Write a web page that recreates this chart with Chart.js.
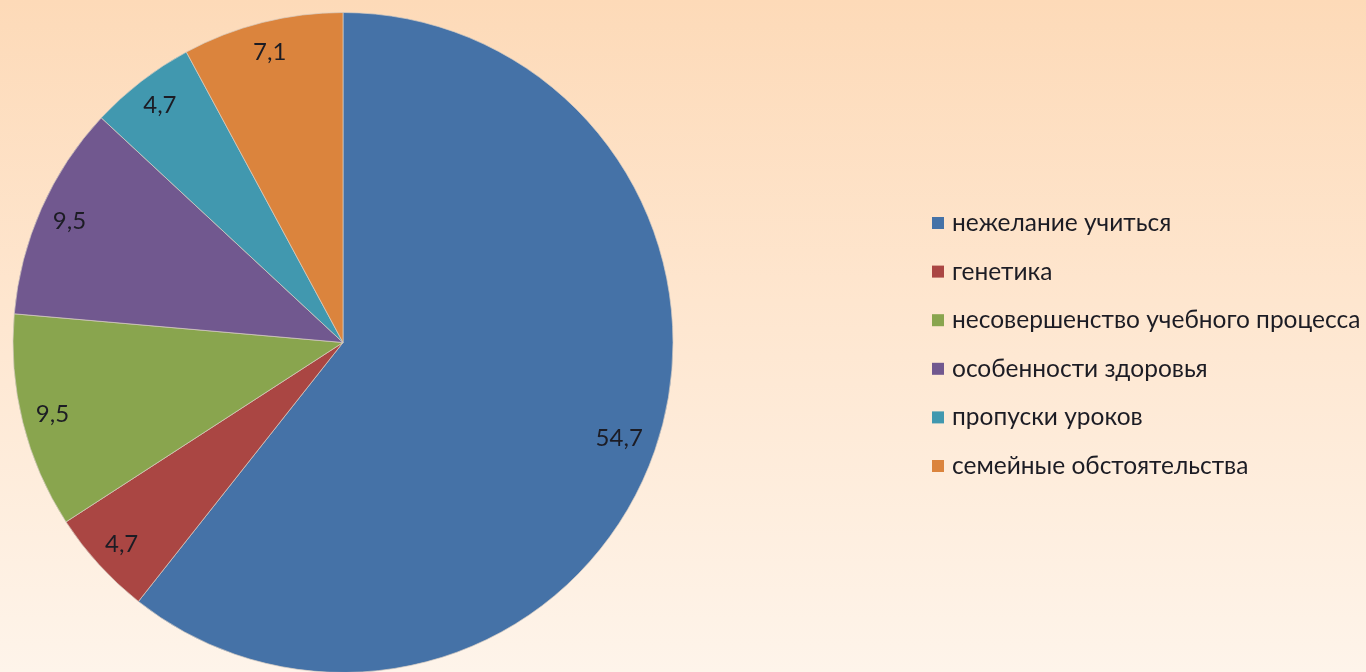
<!DOCTYPE html>
<html>
<head>
<meta charset="utf-8">
<script src="https://cdn.jsdelivr.net/npm/chart.js@4/dist/chart.umd.min.js"></script>
<style>
  html, body { margin: 0; padding: 0; overflow: hidden; }
  body {
    width: 1366px; height: 672px;
    background: linear-gradient(to bottom, #fddab8 0%, #fee6cf 45%, #fef4ea 100%);
  }
  #chart { display: block; }
</style>
</head>
<body>
<canvas id="chart" width="1366" height="680"></canvas>
<script>
// причины неуспеваемости, %
const labels = [
    'нежелание учиться',
    'генетика',
    'несовершенство учебного процесса',
    'особенности здоровья',
    'пропуски уроков',
    'семейные обстоятельства'
];
const values = [54.7, 4.7, 9.5, 9.5, 4.7, 7.1];
const colors = ['#4572a7', '#aa4643', '#89a54e', '#71588f', '#4198af', '#db843d'];

const FONT = 'Lato, "Open Sans", sans-serif';

// value labels inside the slices, near the outer edge (like Excel "inside end")
const sliceLabels = {
    id: 'sliceLabels',
    afterDatasetsDraw(chart) {
        const ctx = chart.ctx;
        const meta = chart.getDatasetMeta(0);
        ctx.save();
        ctx.font = '24px ' + FONT;
        ctx.fillStyle = '#1c1c24';
        ctx.textAlign = 'center';
        ctx.textBaseline = 'middle';
        meta.data.forEach((arc, i) => {
            const p = arc.getProps(['x', 'y', 'startAngle', 'endAngle', 'outerRadius'], true);
            const txt = String(values[i]).replace('.', ',');
            const w = ctx.measureText(txt).width;
            const mid = (p.startAngle + p.endAngle) / 2;
            const r = p.outerRadius - 14 - w / 2;
            ctx.fillText(txt, p.x + Math.cos(mid) * r, p.y + Math.sin(mid) * r);
        });
        ctx.restore();
    }
};

// legend on the right, drawn by hand so it can sit where the original has it
const sideLegend = {
    id: 'sideLegend',
    afterDraw(chart) {
        const ctx = chart.ctx;
        const x0 = 932, y0 = 223, step = 48.6, box = 12;
        ctx.save();
        ctx.font = '24.5px ' + FONT;
        ctx.textBaseline = 'middle';
        chart.data.labels.forEach((lbl, i) => {
            const y = y0 + i * step;
            ctx.fillStyle = colors[i];
            ctx.fillRect(x0, y - box / 2, box, box);
            ctx.fillStyle = '#1c1c24';
            ctx.fillText(lbl, x0 + 20, y);
        });
        ctx.restore();
    }
};

new Chart(document.getElementById('chart').getContext('2d'), {
    type: 'pie',
    data: {
        labels: labels,
        datasets: [{
            data: values,
            backgroundColor: colors,
            borderColor: 'rgba(215, 205, 195, 0.7)',
            borderWidth: 1
        }]
    },
    options: {
        responsive: false,
        animation: false,
        layout: {
            padding: { left: 12, top: 12, right: 692, bottom: 7 }
        },
        plugins: {
            legend: { display: false },
            tooltip: { enabled: false }
        }
    },
    plugins: [sliceLabels, sideLegend]
});
</script>
</body>
</html>
